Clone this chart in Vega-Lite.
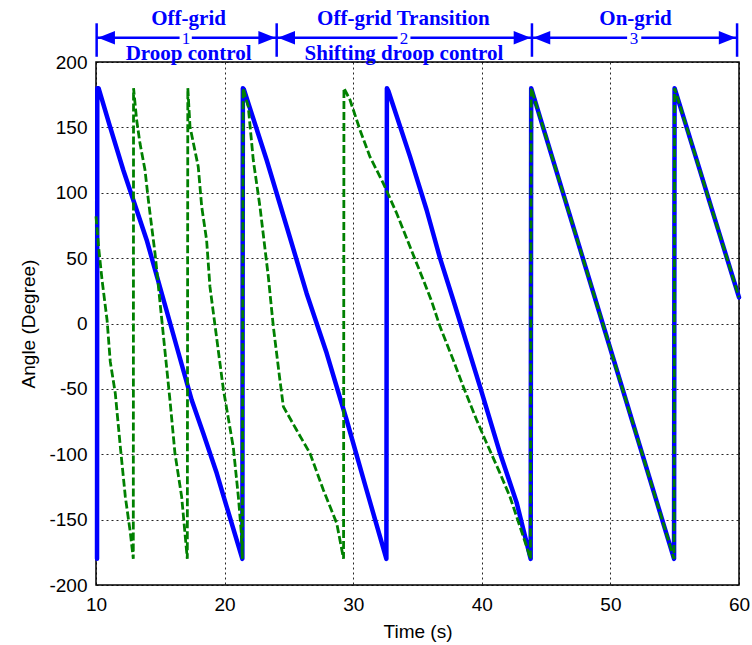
{
  "$schema": "https://vega.github.io/schema/vega-lite/v6.json",
  "width": 643,
  "height": 523,
  "autosize": {"type": "none"},
  "padding": {"left": 96, "top": 62, "right": 13, "bottom": 60},
  "background": "white",
  "config": {
    "view": {"stroke": "black", "strokeWidth": 1.5},
    "font": "Liberation Sans",
    "axis": {
      "labelFont": "Liberation Sans",
      "labelFontSize": 19,
      "labelColor": "black",
      "titleFont": "Liberation Sans",
      "titleFontSize": 19,
      "titleFontWeight": "normal",
      "titleColor": "black",
      "domain": false,
      "ticks": false,
      "grid": true,
      "gridColor": "black",
      "gridDash": [2, 3],
      "gridWidth": 1,
      "gridOpacity": 0.85,
      "labelFlush": false,
      "labelOverlap": false,
      "labelBound": false
    }
  },
  "datasets": {
    "blue": [
      {"i": 0, "x": 10.08, "y": -180}, {"i": 1, "x": 10.1, "y": 180}, {"i": 2, "x": 10.2, "y": 180},
      {"i": 3, "x": 11.09, "y": 150.5}, {"i": 4, "x": 12.12, "y": 117.4}, {"i": 5, "x": 12.9, "y": 94.5},
      {"i": 6, "x": 13.94, "y": 63.9}, {"i": 7, "x": 15.77, "y": 0}, {"i": 8, "x": 17.44, "y": -58.5},
      {"i": 9, "x": 18.34, "y": -84}, {"i": 10, "x": 19.39, "y": -114.6}, {"i": 11, "x": 20.16, "y": -140},
      {"i": 12, "x": 21.38, "y": -180}, {"i": 13, "x": 21.42, "y": 180}, {"i": 14, "x": 21.5, "y": 179},
      {"i": 15, "x": 23.27, "y": 125}, {"i": 16, "x": 24.83, "y": 74}, {"i": 17, "x": 26.38, "y": 23},
      {"i": 18, "x": 27.94, "y": -22.8}, {"i": 19, "x": 29.49, "y": -73.8}, {"i": 20, "x": 31.0, "y": -126},
      {"i": 21, "x": 32.58, "y": -180}, {"i": 22, "x": 32.62, "y": 180}, {"i": 23, "x": 32.73, "y": 178},
      {"i": 24, "x": 34.42, "y": 127.6}, {"i": 25, "x": 35.71, "y": 86.8}, {"i": 26, "x": 36.75, "y": 50},
      {"i": 27, "x": 37.78, "y": 18}, {"i": 28, "x": 39.86, "y": -48.3}, {"i": 29, "x": 41.42, "y": -99.3},
      {"i": 30, "x": 42.71, "y": -137}, {"i": 31, "x": 43.8, "y": -180}, {"i": 32, "x": 43.84, "y": 180},
      {"i": 33, "x": 49.4, "y": 0}, {"i": 34, "x": 54.95, "y": -180}, {"i": 35, "x": 54.99, "y": 180},
      {"i": 36, "x": 60, "y": 20}
    ],
    "green": [
      {"i": 0, "x": 10.0, "y": 82}, {"i": 1, "x": 10.2, "y": 58.7}, {"i": 2, "x": 10.47, "y": 33.3},
      {"i": 3, "x": 10.86, "y": 2.7}, {"i": 4, "x": 11.11, "y": -29.2}, {"i": 5, "x": 11.5, "y": -53.4},
      {"i": 6, "x": 11.89, "y": -94.2}, {"i": 7, "x": 12.28, "y": -132.5}, {"i": 8, "x": 12.67, "y": -160},
      {"i": 9, "x": 12.9, "y": -180}, {"i": 10, "x": 12.92, "y": 180}, {"i": 11, "x": 13.16, "y": 155.6},
      {"i": 12, "x": 13.42, "y": 137.8}, {"i": 13, "x": 13.81, "y": 117.4}, {"i": 14, "x": 14.07, "y": 94.5},
      {"i": 15, "x": 14.33, "y": 74}, {"i": 16, "x": 14.59, "y": 53.7}, {"i": 17, "x": 15.75, "y": -58.5},
      {"i": 18, "x": 16.14, "y": -99.3}, {"i": 19, "x": 16.66, "y": -132.5}, {"i": 20, "x": 17.1, "y": -180},
      {"i": 21, "x": 17.14, "y": 180}, {"i": 22, "x": 17.31, "y": 150.5}, {"i": 23, "x": 17.95, "y": 120},
      {"i": 24, "x": 18.22, "y": 89.3}, {"i": 25, "x": 18.6, "y": 63.9}, {"i": 26, "x": 18.86, "y": 28.2},
      {"i": 27, "x": 19.9, "y": -50}, {"i": 28, "x": 20.68, "y": -95}, {"i": 29, "x": 21.07, "y": -132.5},
      {"i": 30, "x": 21.3, "y": -160}, {"i": 31, "x": 21.38, "y": -180}, {"i": 32, "x": 21.44, "y": 180},
      {"i": 33, "x": 21.84, "y": 165.8}, {"i": 34, "x": 22.23, "y": 125}, {"i": 35, "x": 22.75, "y": 89.3},
      {"i": 36, "x": 23.4, "y": 35.8}, {"i": 37, "x": 23.79, "y": -2.4}, {"i": 38, "x": 24.3, "y": -43.2},
      {"i": 39, "x": 24.57, "y": -63.6}, {"i": 40, "x": 25.6, "y": -81.5}, {"i": 41, "x": 26.64, "y": -99.3},
      {"i": 42, "x": 27.68, "y": -127.3}, {"i": 43, "x": 28.72, "y": -152.8}, {"i": 44, "x": 29.25, "y": -180},
      {"i": 45, "x": 29.28, "y": 180}, {"i": 46, "x": 29.75, "y": 171}, {"i": 47, "x": 30.53, "y": 148},
      {"i": 48, "x": 31.3, "y": 127.6}, {"i": 49, "x": 32.34, "y": 107.2}, {"i": 50, "x": 33.38, "y": 84.3},
      {"i": 51, "x": 34.42, "y": 58.7}, {"i": 52, "x": 35.45, "y": 33.3}, {"i": 53, "x": 36.1, "y": 17},
      {"i": 54, "x": 36.75, "y": -2.4}, {"i": 55, "x": 37.78, "y": -27.9}, {"i": 56, "x": 38.56, "y": -48.3},
      {"i": 57, "x": 39.6, "y": -73.8}, {"i": 58, "x": 40.38, "y": -91.6}, {"i": 59, "x": 41.42, "y": -114.6},
      {"i": 60, "x": 42.19, "y": -132.5}, {"i": 61, "x": 42.97, "y": -155.4}, {"i": 62, "x": 43.49, "y": -170.7},
      {"i": 63, "x": 43.78, "y": -180}, {"i": 64, "x": 43.84, "y": 180}, {"i": 65, "x": 49.4, "y": 0},
      {"i": 66, "x": 54.95, "y": -180}, {"i": 67, "x": 54.99, "y": 180}, {"i": 68, "x": 60, "y": 20}
    ],
    "headings": [
      {"x": 17.2, "y": 228.3, "label": "Off-grid"},
      {"x": 17.2, "y": 201.9, "label": "Droop control"},
      {"x": 33.9, "y": 228.3, "label": "Off-grid Transition"},
      {"x": 33.95, "y": 201.9, "label": "Shifting droop control"},
      {"x": 51.95, "y": 228.3, "label": "On-grid"}
    ],
    "numbers": [
      {"x": 17.0, "y": 214, "label": "1"},
      {"x": 33.95, "y": 214, "label": "2"},
      {"x": 51.84, "y": 214, "label": "3"}
    ],
    "bars": [
      {"x": 10.05, "y": 204, "y2": 229.6},
      {"x": 24.05, "y": 204, "y2": 229.6},
      {"x": 43.9, "y": 204, "y2": 229.6},
      {"x": 59.85, "y": 204, "y2": 229.6}
    ],
    "spans": [
      {"x": 10.05, "x2": 16.5, "y": 218.6},
      {"x": 17.45, "x2": 24.05, "y": 218.6},
      {"x": 24.05, "x2": 33.45, "y": 218.6},
      {"x": 34.45, "x2": 43.9, "y": 218.6},
      {"x": 43.9, "x2": 51.3, "y": 218.6},
      {"x": 52.4, "x2": 59.85, "y": 218.6}
    ],
    "heads": [
      {"x": 10.15, "y": 218.6, "dir": "left"},
      {"x": 23.95, "y": 218.6, "dir": "right"},
      {"x": 24.15, "y": 218.6, "dir": "left"},
      {"x": 43.8, "y": 218.6, "dir": "right"},
      {"x": 44.0, "y": 218.6, "dir": "left"},
      {"x": 59.75, "y": 218.6, "dir": "right"}
    ]
  },
  "layer": [
    {
      "data": {"name": "blue"},
      "mark": {"type": "line", "color": "#0000FF", "strokeWidth": 4.5, "strokeJoin": "round", "strokeCap": "round"},
      "encoding": {
        "x": {"field": "x", "type": "quantitative", "scale": {"domain": [10, 60], "nice": false, "zero": false},
              "axis": {"values": [10, 20, 30, 40, 50, 60], "title": "Time (s)", "labelPadding": 10, "titlePadding": 8}},
        "y": {"field": "y", "type": "quantitative", "scale": {"domain": [-200, 200], "nice": false, "zero": false},
              "axis": {"values": [-200, -150, -100, -50, 0, 50, 100, 150, 200], "title": "Angle (Degree)",
                       "labelPadding": 9, "titlePadding": 10,
                       "labelExpr": "datum.value < 0 ? '-' + abs(datum.value) : '' + datum.value"}},
        "order": {"field": "i", "type": "quantitative"}
      }
    },
    {
      "data": {"name": "green"},
      "mark": {"type": "line", "color": "#008000", "strokeWidth": 2.8, "strokeDash": [8, 3]},
      "encoding": {
        "x": {"field": "x", "type": "quantitative", "scale": {"domain": [10, 60], "nice": false, "zero": false}},
        "y": {"field": "y", "type": "quantitative", "scale": {"domain": [-200, 200], "nice": false, "zero": false}},
        "order": {"field": "i", "type": "quantitative"}
      }
    },
    {
      "data": {"name": "bars"},
      "mark": {"type": "rule", "color": "#0000FF", "strokeWidth": 2.5},
      "encoding": {
        "x": {"field": "x", "type": "quantitative"},
        "y": {"field": "y", "type": "quantitative"},
        "y2": {"field": "y2"}
      }
    },
    {
      "data": {"name": "spans"},
      "mark": {"type": "rule", "color": "#0000FF", "strokeWidth": 2.5},
      "encoding": {
        "x": {"field": "x", "type": "quantitative"},
        "x2": {"field": "x2"},
        "y": {"field": "y", "type": "quantitative"}
      }
    },
    {
      "data": {"name": "heads"},
      "transform": [{"filter": "datum.dir == 'left'"}],
      "mark": {"type": "point", "shape": "M0,0L2,-0.8L2,0.8Z", "filled": true, "color": "#0000FF", "opacity": 1, "size": 289},
      "encoding": {
        "x": {"field": "x", "type": "quantitative"},
        "y": {"field": "y", "type": "quantitative"}
      }
    },
    {
      "data": {"name": "heads"},
      "transform": [{"filter": "datum.dir == 'right'"}],
      "mark": {"type": "point", "shape": "M0,0L-2,-0.8L-2,0.8Z", "filled": true, "color": "#0000FF", "opacity": 1, "size": 289},
      "encoding": {
        "x": {"field": "x", "type": "quantitative"},
        "y": {"field": "y", "type": "quantitative"}
      }
    },
    {
      "data": {"name": "headings"},
      "mark": {"type": "text", "font": "Liberation Serif", "fontWeight": "bold", "fontSize": 21, "color": "#0000FF", "align": "center", "baseline": "alphabetic"},
      "encoding": {
        "x": {"field": "x", "type": "quantitative"},
        "y": {"field": "y", "type": "quantitative"},
        "text": {"field": "label"}
      }
    },
    {
      "data": {"name": "numbers"},
      "mark": {"type": "text", "font": "Liberation Serif", "fontSize": 17, "color": "#0000FF", "align": "center", "baseline": "alphabetic"},
      "encoding": {
        "x": {"field": "x", "type": "quantitative"},
        "y": {"field": "y", "type": "quantitative"},
        "text": {"field": "label"}
      }
    }
  ]
}
